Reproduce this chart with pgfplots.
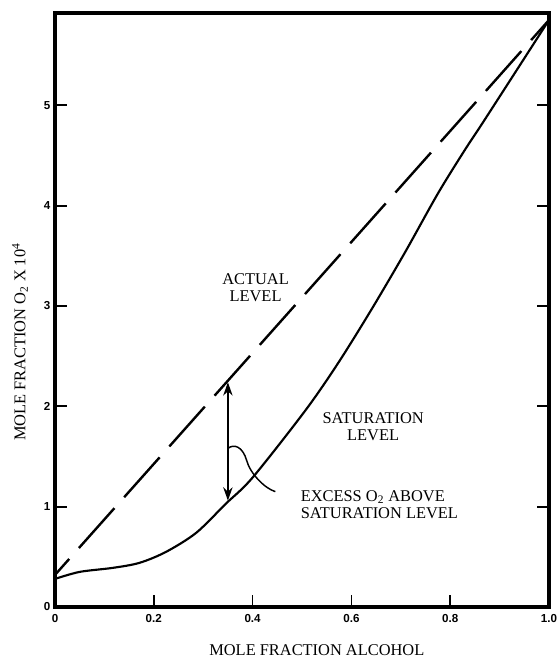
\documentclass[border=0pt]{standalone}
\usepackage{pgfplots}
\pgfplotsset{compat=1.18}
\usetikzlibrary{arrows.meta}
\usepackage{fontspec}
\setmainfont{Liberation Serif}
\newfontfamily\tickfont{Liberation Sans}

\begin{document}
\begin{tikzpicture}
\begin{axis}[
  name=ax,
  width=370.5pt, height=445.5pt, scale only axis,
  xmin=0, xmax=1.0, ymin=0, ymax=5.92,
  axis line style={line width=2.8pt},
  xtick={0,0.2,0.4,0.6,0.8,1.0},
  xticklabels={0,0.2,0.4,0.6,0.8,1.0},
  ytick={0,1,2,3,4,5},
  yticklabels={0,1,2,3,4,5},
  tick align=inside, major tick length=9pt,
  tick style={line width=1.3pt, black},
  xtick pos=bottom,
  ticklabel style={font=\tickfont\bfseries\fontsize{8.7}{10}\selectfont},
  xticklabel style={yshift=-2pt},
  label style={font=\fontsize{12.3}{14}\selectfont},
  xlabel={MOLE FRACTION ALCOHOL},
  ylabel={MOLE FRACTION O\textsubscript{2} X 10\textsuperscript{4}},
  xlabel style={at={(axis description cs:0.53,-0.0724)}, anchor=center},
  ylabel style={at={(axis description cs:-0.0709,0.446)}, anchor=center},
  clip=false,
]
\addplot[black, line width=1.8pt, dash pattern=on 40pt off 11pt, dash phase=24pt] coordinates {
  (0,0.32) (1.0,5.85)
};
\addplot[black, line width=1.6pt, smooth] coordinates {
  (0,0.28) (0.05,0.35) (0.117,0.39) (0.171,0.44) (0.225,0.55) (0.286,0.74)
  (0.346,1.03) (0.40,1.29) (0.507,1.96) (0.573,2.43)
  (0.64,2.96) (0.708,3.53) (0.775,4.12) (0.829,4.55) (0.869,4.85) (1.0,5.85)
};
\draw[line width=1.4pt, {Stealth[length=10pt,width=7pt]}-{Stealth[length=10pt,width=7pt]}]
  (axis cs:0.35,2.24) -- (axis cs:0.35,1.06);
\draw[line width=1.1pt] (axis cs:0.35,1.58) .. controls (axis cs:0.362,1.63) and (axis cs:0.380,1.60) .. (axis cs:0.388,1.46)
  .. controls (axis cs:0.395,1.33) and (axis cs:0.425,1.18) .. (axis cs:0.446,1.15);
\node[font=\fontsize{12.3}{13}\selectfont, align=center] at (axis cs:0.406,3.18) {ACTUAL\\LEVEL};
\node[font=\fontsize{12.3}{13}\selectfont, align=center] at (axis cs:0.644,1.80) {SATURATION\\LEVEL};
\node[font=\fontsize{12.3}{13}\selectfont, align=left, anchor=west, inner sep=0pt] at (axis cs:0.497,1.02) {EXCESS O\textsubscript{2} ABOVE\\SATURATION LEVEL};
\end{axis}
\pgfresetboundingbox
\path ([xshift=-41.25pt,yshift=-37.5pt]ax.south west) rectangle ([xshift=6.75pt,yshift=9.75pt]ax.north east);
\end{tikzpicture}
\end{document}
